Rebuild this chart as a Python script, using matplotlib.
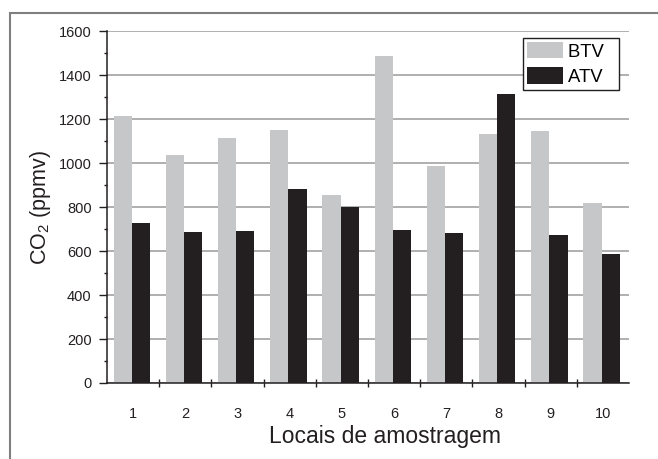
import numpy as np
import matplotlib
matplotlib.use('Agg')
from matplotlib import pyplot as plt
from matplotlib.patches import Rectangle
from matplotlib.ticker import MultipleLocator, FixedLocator

plt.rcParams['font.family'] = ['Liberation Sans', 'DejaVu Sans']
plt.rcParams['mathtext.fontset'] = 'custom'
plt.rcParams['mathtext.rm'] = 'Liberation Sans'

# data
locais = ['1', '2', '3', '4', '5', '6', '7', '8', '9', '10']
btv = [1214, 1035, 1115, 1153, 855, 1488, 985, 1132, 1148, 820]
atv = [729, 689, 693, 883, 801, 698, 681, 1316, 675, 588]

fig = plt.figure(figsize=(6.58, 4.59), dpi=100)
ax = fig.add_axes([0.1626, 0.1656, 0.7933, 0.7662])

x = np.arange(1, len(locais) + 1)
w = 0.35
ax.bar(x - 0.2, btv, width=w, color='#c6c7c9', label='BTV  ', zorder=2)
ax.bar(x + 0.15, atv, width=w, color='#231f20', label='ATV  ', zorder=2)

ax.set_xlim(0.5, 10.5)
ax.set_ylim(0, 1600)
ax.yaxis.set_major_locator(MultipleLocator(200))
ax.yaxis.set_minor_locator(MultipleLocator(100))
ax.set_xticks(x)
ax.set_xticklabels(locais)
ax.xaxis.set_minor_locator(FixedLocator(np.arange(1.5, 10, 1.0)))

ax.grid(axis='y', which='major', color='#9a9a9a', linewidth=1.1, zorder=0)
ax.set_axisbelow(True)

for s in ['top', 'right']:
    ax.spines[s].set_visible(False)
for s in ['left', 'bottom']:
    ax.spines[s].set_linewidth(1.1)
    ax.spines[s].set_color('#231f20')

ax.tick_params(axis='y', which='major', direction='out', length=5.5, width=1, pad=5.5,
               labelsize=10.5, colors='#231f20')
ax.tick_params(axis='y', which='minor', direction='out', length=2.5, width=1, colors='#231f20')
ax.tick_params(axis='x', which='major', length=0, pad=17, labelsize=10.5, colors='#231f20')
ax.tick_params(axis='x', which='minor', direction='inout', length=6, width=1, colors='#231f20')

ax.set_xlabel('Locais de amostragem', fontsize=16.5, color='#231f20', labelpad=3)
ax.xaxis.label.set_x(0.5335)
ax.set_ylabel(r'CO$_\mathregular{2}$ (ppmv)', fontsize=15.5, color='#231f20', labelpad=4)

leg = ax.legend(loc='upper right', bbox_to_anchor=(0.981, 0.982), borderaxespad=0,
                fontsize=13.3, frameon=True, fancybox=False, framealpha=1,
                handlelength=1.95, handleheight=0.97, labelspacing=0.36,
                handletextpad=0.27, borderpad=0.25)
leg.get_frame().set_edgecolor('#231f20')
leg.get_frame().set_linewidth(1.0)

# outer frame around the figure
fig.patches.append(Rectangle((10 / 658, -0.05), 1.1, 1 - 13 / 459 + 0.05,
                             transform=fig.transFigure, fill=False,
                             edgecolor='#7f7f7f', linewidth=1.5))

fig.savefig('out.png', dpi=100)
